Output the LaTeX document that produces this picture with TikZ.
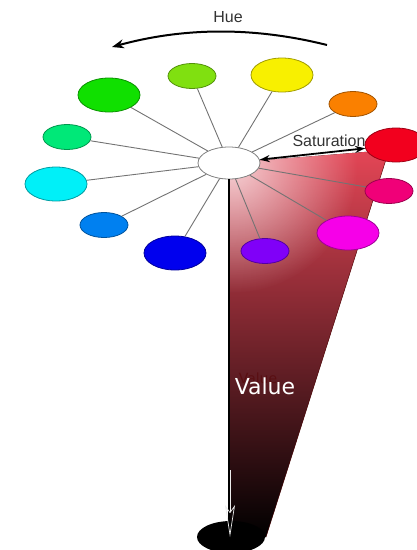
\documentclass[tikz,border=0pt]{standalone}
\usepackage{fontspec}
\setmainfont{Liberation Sans}
\newfontfamily\valuefont{DejaVu Sans}
\usetikzlibrary{arrows.meta,shapes.geometric,fadings}

\definecolor{wred}{HTML}{F2001E}
\definecolor{worange}{HTML}{FA8000}
\definecolor{wyellow}{HTML}{F8F000}
\definecolor{wchart}{HTML}{80E010}
\definecolor{wgreen}{HTML}{10E000}
\definecolor{wspring}{HTML}{00E878}
\definecolor{wcyan}{HTML}{00F0F8}
\definecolor{wazure}{HTML}{0080F0}
\definecolor{wblue}{HTML}{0000EE}
\definecolor{wviolet}{HTML}{8000F8}
\definecolor{wmagenta}{HTML}{F600E8}
\definecolor{wrose}{HTML}{F00078}
\definecolor{conetop}{HTML}{E44656}
\definecolor{conemid}{HTML}{BE3444}

\tikzfading[name=glowfade, inner color=transparent!0, outer color=transparent!100]

\begin{document}
\begin{tikzpicture}[x=1pt, y=-1pt, >=Stealth,
    wheelnode/.style={ellipse, draw=#1!65!black, fill=#1, line width=0.8pt, inner sep=0pt},
    bighue/.style={wheelnode=#1, minimum width=62pt, minimum height=34pt},
    smallhue/.style={wheelnode=#1, minimum width=48pt, minimum height=25pt},
    spoke/.style={draw=gray!90!black, line width=0.9pt},
    labeltext/.style={text=black!80, font=\fontsize{16}{18}\selectfont, inner sep=0pt}]
        % ==== FRAME ====
        \useasboundingbox (0,0) rectangle (417,550);

        % ==== CONE ====
        \coordinate (apex) at (229,163);
        \coordinate (rim) at (389,150);
        \coordinate (tipright) at (266,537);
        \coordinate (tipleft) at (229,537);
        \fill[top color=conetop, middle color=conemid, bottom color=black]
            (apex) -- (rim) -- (tipright) -- (tipleft) -- cycle;
        \begin{scope}
            \clip (apex) -- (rim) -- (tipright) -- (tipleft) -- cycle;
            \fill[white, fill opacity=0.75, path fading=glowfade] (232,168) circle (125);
        \end{scope}
        \draw[red!35!black, line width=0.6pt, opacity=0.6] (rim) -- (tipright);
        \node[ellipse, fill=black, minimum width=68pt, minimum height=32pt] (base) at (231,537) {};

        % ==== HUE WHEEL ====
        \foreach \name/\x/\y/\size in {wred/396/145/bighue, worange/353/104/smallhue,
            wyellow/282/75/bighue, wchart/192/76/smallhue, wgreen/109/95/bighue,
            wspring/67/137/smallhue, wcyan/56/184/bighue, wazure/104/225/smallhue,
            wblue/175/253/bighue, wviolet/265/251/smallhue, wmagenta/348/233/bighue,
            wrose/389/191/smallhue}
            \node[\size=\name] (\name) at (\x,\y) {};
        \node[ellipse, draw=gray, fill=white, line width=0.8pt,
            minimum width=62pt, minimum height=32pt] (hub) at (229,163) {};
        \foreach \name in {worange,wyellow,wchart,wgreen,wspring,wcyan,
            wazure,wblue,wviolet,wmagenta,wrose}
            \draw[spoke] (hub) -- (\name);

        % ==== HUE ARROW ====
        \coordinate (huefrom) at (327,45);
        \coordinate (hueto) at (112,47);
        \draw[line width=2pt, -{Stealth[length=12pt, width=9pt]}]
            (huefrom) .. controls (255,27) and (185,27) .. (hueto);
        \node[labeltext] (huelabel) at (228,17) {Hue};

        % ==== SATURATION ARROW ====
        \draw[line width=1.8pt, {Stealth[length=10pt, width=7pt]}-{Stealth[length=10pt, width=7pt]}]
            (hub) -- (wred);
        \node[labeltext] (satlabel) at (329,141) {Saturation};

        % ==== VALUE ARROW ====
        \coordinate (valuestem) at (230,470);
        \coordinate (valuetip) at (230,537);
        \draw[line width=2.2pt] (hub) -- (tipleft);
        \draw[white!85!gray, line width=0.7pt, -{Stealth[open, length=32pt, width=10pt, inset=7pt]}]
            (valuestem) -- (valuetip);
        \node[text=black!45!red!60!black, font=\valuefont\fontsize{14}{16}\selectfont,
            opacity=0.5, inner sep=0pt] (valueshadow) at (258,378) {Value};
        \node[text=white, font=\valuefont\fontsize{22}{24}\selectfont, inner sep=0pt]
            (valuelabel) at (265,386) {Value};
    \end{tikzpicture}
\end{document}
